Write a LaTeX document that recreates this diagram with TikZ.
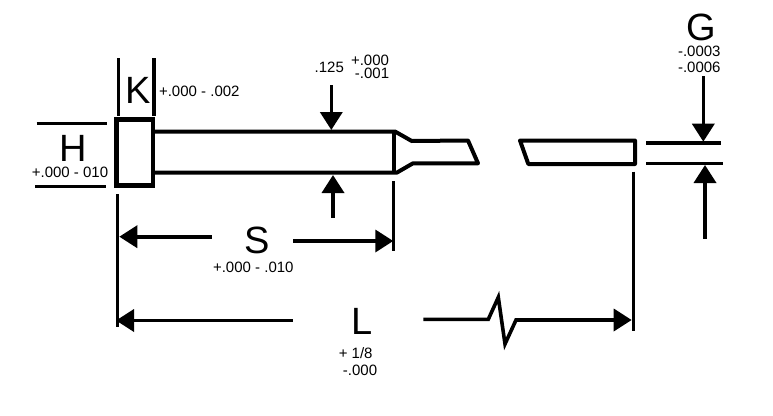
\documentclass[tikz,border=0pt]{standalone}
\usepackage{fontspec}
\setmainfont{Liberation Sans}
\usetikzlibrary{arrows.meta}
\tikzset{
  bigtext/.style={inner sep=0pt,font=\fontsize{38}{38}\selectfont},
  smalltext/.style={inner sep=0pt,font=\fontsize{15}{15}\selectfont},
  outline/.style={line width=4.4pt,line join=miter},
  shank/.style={line width=4pt,line join=round},
  extline/.style={line width=3.4pt},
  dimarrow/.style={line width=3.6pt,-{Triangle[length=18pt,width=22pt]}},
}
\begin{document}
\begin{tikzpicture}[x=1pt,y=-1pt]
\useasboundingbox[fill=white] (0,0) rectangle (773,415);
% Punch outline
\draw[outline] (116.5,119.5) rectangle (153,185.5);
\draw[shank] (153,131.5) -- (395,131.5) -- (411.7,141) -- (468,140.5) -- (478,163.3) -- (413,163.3) -- (396.7,172.7) -- (153,172.7);
\draw[shank] (394.3,132) -- (394.3,172.7);
\draw[shank] (520,140.5) -- (635,140.5) -- (635,164) -- (528.3,164) -- cycle;
% Extension and limit lines
\draw[extline] (118.3,58) -- (118.3,116);
\draw[extline] (154,58) -- (154,116);
\draw[extline] (36.7,123.7) -- (107,123.7);
\draw[extline] (35,186.7) -- (106,186.7);
\draw[extline] (117.7,194) -- (117.7,327);
\draw[extline] (393.7,181) -- (393.7,251);
\draw[extline] (633.7,171.7) -- (633.7,331);
\draw[extline] (646,143) -- (720.7,143);
\draw[extline] (646,163.3) -- (723,163.3);
% Labels
\node[bigtext] (k) at (138,90) {K};
\node[smalltext] (ktol) at (199.3,91.3) {+.000 - .002};
\node[bigtext] (h) at (73,148) {H};
\node[smalltext] (htol) at (70,172.3) {+.000 - 010};
\node[smalltext] (dia) at (329.3,67.3) {.125};
\node[smalltext] (diaup) at (370,60) {+.000};
\node[smalltext] (dialo) at (372,73.3) {-.001};
\node[bigtext] (g) at (701,27) {G};
\node[smalltext] (gup) at (699.3,51) {-.0003};
\node[smalltext] (glo) at (699.3,67.3) {-.0006};
\node[bigtext] (s) at (257,240.7) {S};
\node[smalltext] (stol) at (253.3,267.3) {+.000 - .010};
\node[bigtext] (l) at (362,321.7) {L};
\node[smalltext] (lup) at (355.7,352.7) {+ 1/8};
\node[smalltext] (llo) at (360,370) {-.000};
% Free ends of the dimension arrows
\coordinate (dtopa) at (331.3,85);
\coordinate (dtopb) at (331.3,130);
\coordinate (dbota) at (333,217.7);
\coordinate (dbotb) at (333,175);
\coordinate (gtopa) at (703.3,76);
\coordinate (gtopb) at (703.3,141.7);
\coordinate (gbota) at (705,238.7);
\coordinate (gbotb) at (705,165);
\coordinate (sla) at (211.7,236.7);
\coordinate (slb) at (119.3,236.7);
\coordinate (sra) at (293.3,241);
\coordinate (srb) at (393.3,241);
\coordinate (lla) at (292.7,320.5);
\coordinate (llb) at (116,320.5);
\coordinate (lra) at (423.3,319.3);
\coordinate (lrb) at (631.7,320);
\draw[dimarrow] (dtopa) -- (dtopb);
\draw[dimarrow] (dbota) -- (dbotb);
\draw[dimarrow] (gtopa) -- (gtopb);
\draw[dimarrow] (gbota) -- (gbotb);
\draw[dimarrow] (sla) -- (slb);
\draw[dimarrow] (sra) -- (srb);
\draw[dimarrow] (lla) -- (llb);
\draw[dimarrow,line join=miter] (lra) -- (488.3,319.3) -- (498.3,297.3) -- (505,344) -- (516,320) -- (lrb);
\end{tikzpicture}
\end{document}
